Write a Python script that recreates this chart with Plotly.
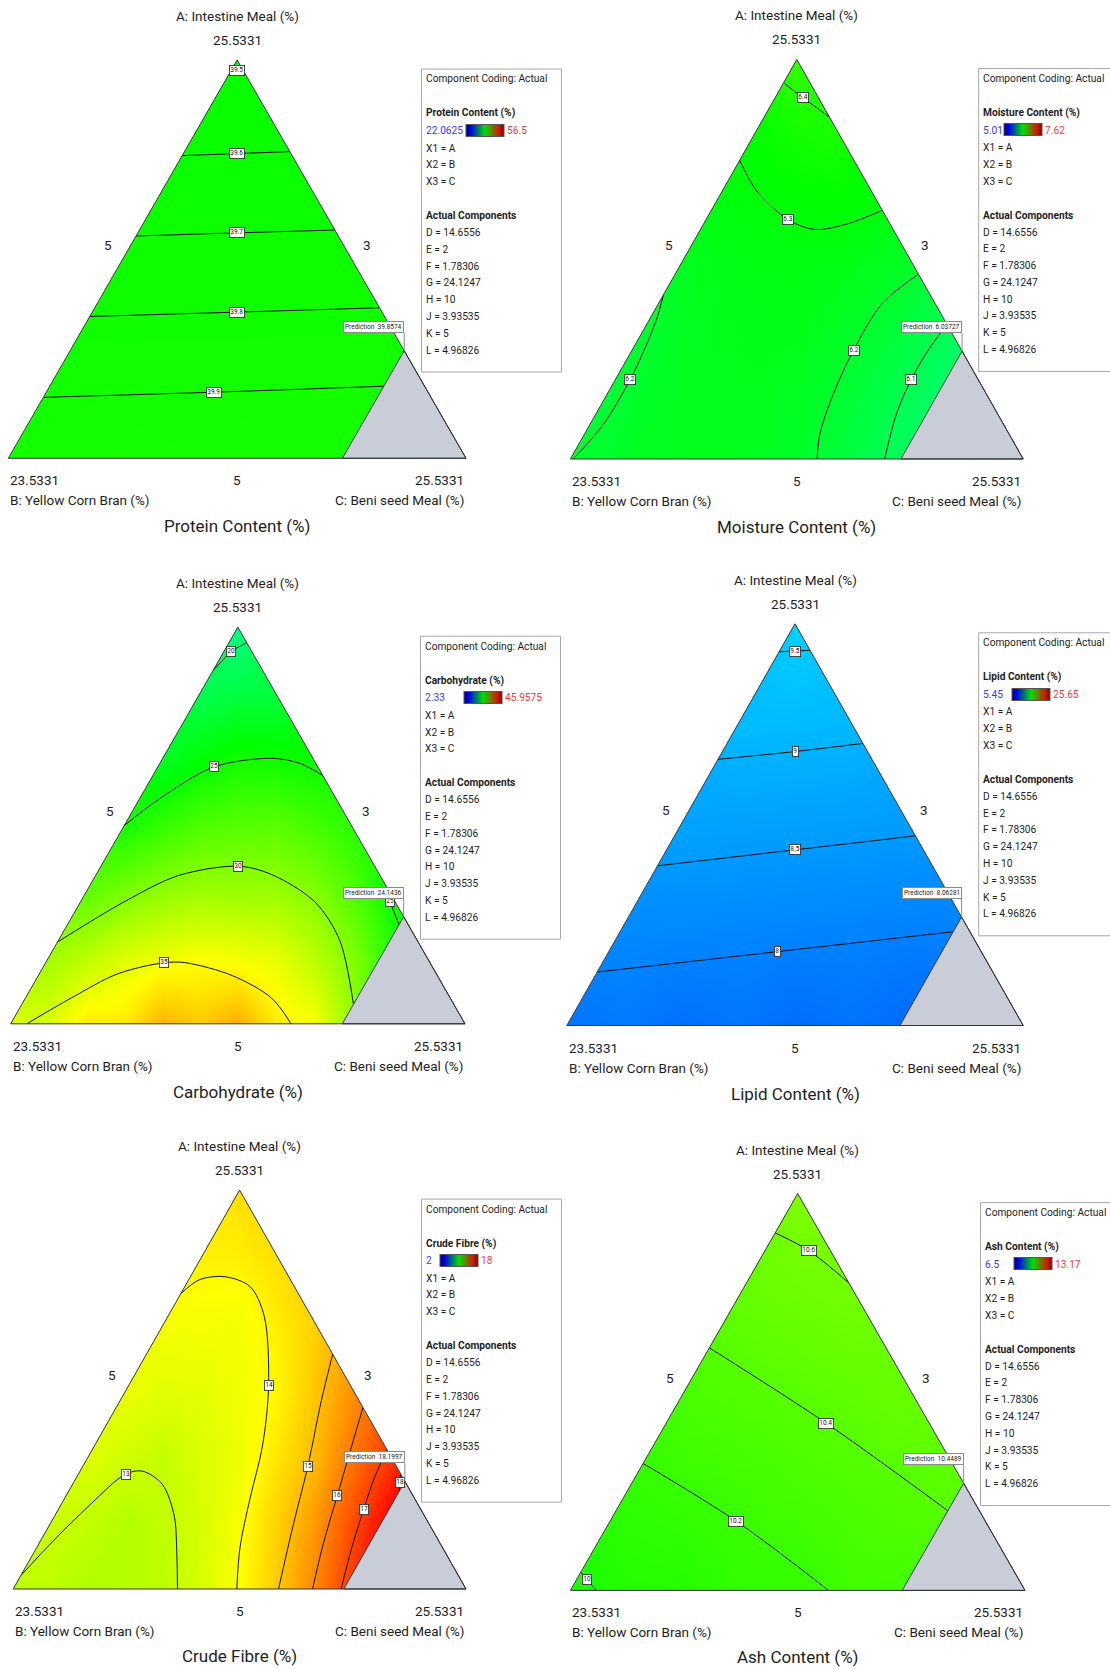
import plotly.graph_objects as go

FIG_W, FIG_H = 1110, 1669
FONT = "Roboto"
INK = "#1e1e1e"

# ---------------------------------------------------------------- data
COMPONENTS = ["A: Intestine Meal (%)", "B: Yellow Corn Bran (%)", "C: Beni seed Meal (%)"]
VERTEX_VALUES = [25.5331, 23.5331, 25.5331]      # A at apex, B bottom-left, C bottom-right
EDGE_TICK_TEXT = ["5", "3", "5"]                 # left edge, right edge, bottom edge

RESPONSES = ["Protein Content (%)", "Moisture Content (%)", "Carbohydrate (%)",
             "Lipid Content (%)", "Crude Fibre (%)", "Ash Content (%)"]
SCALE_LOW = [22.0625, 5.01, 2.33, 5.45, 2, 6.5]
SCALE_HIGH = [56.5, 7.62, 45.9575, 25.65, 18, 13.17]
PREDICTION = [39.8574, 6.03727, 24.1436, 8.06281, 18.1997, 10.4489]

FIXED_NAMES = ["D", "E", "F", "G", "H", "J", "K", "L"]
FIXED_VALUES = [14.6556, 2, 1.78306, 24.1247, 10, 3.93535, 5, 4.96826]

C_UPPER = 0.73                    # pseudo fraction of C above which blends are infeasible
PREDICTION_BLEND = (0.27, 0.73)   # (A, C) pseudo fractions of the flagged blend

# Response values on a simplex lattice: row i -> A = i/n, entry j -> C = j/n
PROTEIN_GRID = [
    [39.98, 39.985, 39.99, 39.995, 40.0],
    [39.86, 39.865, 39.87, 39.875],
    [39.73, 39.735, 39.74],
    [39.605, 39.61],
    [39.49],
]
MOISTURE_GRID = [
    [6.19, 6.24, 6.25, 6.21, 6.12, 5.98, 5.85],
    [6.18, 6.24, 6.25, 6.20, 6.10, 5.98],
    [6.19, 6.25, 6.26, 6.20, 6.10],
    [6.24, 6.27, 6.27, 6.22],
    [6.28, 6.31, 6.31],
    [6.33, 6.39],
    [6.45],
]
CARB_GRID = [
    [33.5, 36.0, 38.3, 38.6, 34.8, 27.0, 20.0],
    [31.0, 33.6, 34.9, 34.1, 29.7, 23.0],
    [28.0, 30.3, 30.7, 29.8, 24.8],
    [25.0, 27.5, 28.0, 26.0],
    [22.5, 25.0, 24.5],
    [20.7, 21.5],
    [18.5],
]
LIPID_GRID = [
    [7.75, 7.68, 7.61, 7.55, 7.48],
    [8.22, 8.16, 8.09, 8.02],
    [8.70, 8.63, 8.56],
    [9.17, 9.10],
    [9.64],
]
FIBRE_GRID = [
    [12.95, 12.75, 12.95, 13.95, 15.9, 18.8, 20.5],
    [13.2, 12.8, 13.35, 14.7, 16.8, 19.5],
    [13.5, 13.1, 13.7, 15.05, 17.1],
    [13.7, 13.6, 14.1, 15.7],
    [13.85, 13.8, 14.7],
    [14.2, 14.5],
    [14.5],
]
ASH_GRID = [
    [9.97, 10.07, 10.165, 10.26, 10.36],
    [10.145, 10.24, 10.34, 10.44],
    [10.32, 10.415, 10.515],
    [10.495, 10.59],
    [10.67],
]

# Contour lines: (level, A fractions, C fractions, index of the labelled point)
PROTEIN_LINES = [
    (39.5, [0.973, 0.973, 0.973], [0.0, 0.0135, 0.027], 1),
    (39.6, [0.760, 0.765, 0.770], [0.0, 0.1175, 0.230], 1),
    (39.7, [0.558, 0.566, 0.573], [0.0, 0.217, 0.427], 1),
    (39.8, [0.356, 0.367, 0.378], [0.0, 0.3165, 0.622], 1),
    (39.9, [0.153, 0.166, 0.181], [0.0, 0.367, 0.73], 1),
]
MOISTURE_LINES = [
    (6.4, [0.9416, 0.9054, 0.8553], [0.0, 0.0599, 0.1449], 1),
    (6.3, [0.7475, 0.6697, 0.599, 0.5748, 0.5878, 0.6223],
          [0.0, 0.0775, 0.1816, 0.2513, 0.3158, 0.3777], 2),
    (6.2, [0.4109, 0.3548, 0.2858, 0.1995, 0.0873, 0.0],
          [0.0, 0.0144, 0.025, 0.0326, 0.0296, 0.0062], 3),
    (6.2, [0.4627, 0.3886, 0.2721, 0.1556, 0.0605, 0.0],
          [0.5373, 0.4942, 0.4893, 0.5003, 0.5203, 0.545], 2),
    (6.1, [0.3376, 0.2599, 0.1996, 0.1133, 0.0],
          [0.6624, 0.6532, 0.6534, 0.6635, 0.694], 2),
]
CARB_LINES = [
    (20, [0.8912, 0.913, 0.939, 0.9608], [0.0, 0.0073, 0.0163, 0.0392], 2),
    (25, [0.5, 0.5695, 0.6478, 0.6695, 0.6565, 0.626],
         [0.0, 0.0454, 0.1242, 0.2391, 0.3085, 0.374], 2),
    (30, [0.2061, 0.3087, 0.3739, 0.3974, 0.3765, 0.3087, 0.213, 0.0478],
         [0.0, 0.0973, 0.1826, 0.3021, 0.3857, 0.5139, 0.6168, 0.7308], 3),
    (35, [0.0, 0.0652, 0.1261, 0.1539, 0.1539, 0.1217, 0.0652, 0.0],
         [0.0354, 0.101, 0.1728, 0.2611, 0.3082, 0.4265, 0.5413, 0.6171], 3),
    (25, [0.3478, 0.3087, 0.25], [0.6522, 0.6806, 0.73], 1),
]
LIPID_LINES = [
    (9.5, [0.9305, 0.932, 0.934], [0.0, 0.033, 0.066], 1),
    (9, [0.6627, 0.682, 0.7022], [0.0, 0.159, 0.2978], 1),
    (8.5, [0.3975, 0.4373, 0.4721], [0.0, 0.2815, 0.5279], 1),
    (8, [0.1331, 0.184, 0.2335], [0.0, 0.3705, 0.73], 1),
]
FIBRE_LINES = [
    (14, [0.7407, 0.7759, 0.7829, 0.7583, 0.6836, 0.5096, 0.3585, 0.2267, 0.1037, 0.0],
         [0.0, 0.0245, 0.0762, 0.1438, 0.2127, 0.3092, 0.3713, 0.4096, 0.449, 0.4938], 5),
    (13, [0.0334, 0.1213, 0.2091, 0.2882, 0.2952, 0.2618, 0.1828, 0.0861, 0.0],
         [0.0, 0.0285, 0.0634, 0.1044, 0.1387, 0.1988, 0.2643, 0.3183, 0.3628], 3),
    (15, [0.5887, 0.4727, 0.3075, 0.1564, 0.0], [0.4113, 0.4443, 0.4969, 0.5394, 0.586], 2),
    (16, [0.4551, 0.3585, 0.2355, 0.1125, 0.0], [0.5449, 0.5684, 0.5984, 0.6284, 0.661], 2),
    (17, [0.3497, 0.2706, 0.1986, 0.1037, 0.0], [0.6503, 0.6597, 0.6745, 0.6959, 0.7241], 2),
    (18, [0.2882, 0.2663, 0.2443], [0.7118, 0.721, 0.73], 1),
]
ASH_LINES = [
    (10.6, [0.9011, 0.856, 0.7748], [0.0, 0.0967, 0.2252], 1),
    (10.4, [0.6113, 0.4214, 0.2006], [0.0, 0.352, 0.73], 1),
    (10.2, [0.3199, 0.1741, 0.0], [0.0, 0.2782, 0.5679], 1),
    (10, [0.046, 0.0279, 0.0], [0.0, 0.0226, 0.0573], 1),
]

GRIDS = [PROTEIN_GRID, MOISTURE_GRID, CARB_GRID, LIPID_GRID, FIBRE_GRID, ASH_GRID]
LINES = [PROTEIN_LINES, MOISTURE_LINES, CARB_LINES, LIPID_LINES, FIBRE_LINES, ASH_LINES]

# ---------------------------------------------------------------- layout (pixels)
PANELS = [
    dict(left=8.3, right=466.0, base=458.3, apex=60.0, bar=44.0, title=68),
    dict(left=570.4, right=1023.2, base=459.0, apex=59.5, bar=25.0, title=68),
    dict(left=10.7, right=465.0, base=1023.8, apex=627.2, bar=43.5, title=68),
    dict(left=566.8, right=1023.2, base=1025.5, apex=623.8, bar=33.0, title=68),
    dict(left=13.2, right=466.0, base=1589.0, apex=1190.1, bar=18.0, title=67),
    dict(left=570.4, right=1025.0, base=1590.4, apex=1193.6, bar=33.0, title=67),
]
LEGEND_ROWS = [10, 44.5, 61.7, 79, 95.8, 112.6, 146.7, 163.5, 180.3, 197.1,
               213.9, 230.7, 247.5, 264.3, 281.1]
PAD = 0.015

# surface colouring and the small gradient key shown in each legend box
RAINBOW = [[0.0, "rgb(0,0,255)"], [0.25, "rgb(0,255,255)"], [0.5, "rgb(0,255,0)"],
           [0.75, "rgb(255,255,0)"], [1.0, "rgb(255,0,0)"]]
KEY_SCALE = [[0.0, "rgb(0,0,120)"], [0.12, "rgb(0,0,235)"], [0.5, "rgb(0,225,0)"],
             [0.88, "rgb(215,20,0)"], [1.0, "rgb(120,0,0)"]]


def to_xy(a, c):
    """Pseudo-component fractions -> triangle plane (B at origin, C at x=1, A at top)."""
    return c + a / 2.0, a


def lattice(grid):
    n = len(grid) - 1
    xs, ys, zs = [], [], []
    for i, row in enumerate(grid):
        for j, v in enumerate(row):
            x, y = to_xy(i / n, j / n)
            xs.append(round(x, 6))
            ys.append(round(y, 6))
            zs.append(v)
    return xs, ys, zs


def pxx(x):
    return x / FIG_W


def pxy(y):
    return 1 - y / FIG_H


def poly(points):
    return "M " + " L ".join(f"{x:.5f},{y:.5f}" for x, y in points) + " Z"


fig = go.Figure()
masks, shapes, annotations, axes = [], [], [], {}

for k, P in enumerate(PANELS):
    suffix = "" if k == 0 else str(k + 1)
    xref, yref = "x" + suffix, "y" + suffix
    w = P["right"] - P["left"]
    h = P["base"] - P["apex"]
    axes["xaxis" + suffix] = dict(domain=[pxx(P["left"] - PAD * w), pxx(P["right"] + PAD * w)],
                                  range=[-PAD, 1 + PAD], visible=False, fixedrange=True,
                                  anchor=yref)
    axes["yaxis" + suffix] = dict(domain=[pxy(P["base"] + PAD * h), pxy(P["apex"] - PAD * h)],
                                  range=[-PAD, 1 + PAD], visible=False, fixedrange=True,
                                  anchor=xref)

    box_left = P["right"] - 44.5
    box_top = P["apex"] + 9
    bar_x = box_left + P["bar"]
    bar_y = box_top + LEGEND_ROWS[2]

    # response surface
    xs, ys, zs = lattice(GRIDS[k])
    fig.add_trace(go.Heatmap(
        x=xs, y=ys, z=zs, xaxis=xref, yaxis=yref, zsmooth="best", connectgaps=True,
        colorscale=RAINBOW, zmin=SCALE_LOW[k], zmax=SCALE_HIGH[k], hoverinfo="skip",
        showscale=False))

    # gradient key in the legend box
    fig.add_trace(go.Scatter(
        x=[None], y=[None], xaxis=xref, yaxis=yref, mode="markers", hoverinfo="skip",
        showlegend=False,
        marker=dict(color=[SCALE_LOW[k]], cmin=SCALE_LOW[k], cmax=SCALE_HIGH[k],
                    colorscale=KEY_SCALE, showscale=True,
                    colorbar=dict(orientation="h", x=pxx(bar_x), xanchor="left", y=pxy(bar_y),
                                  yanchor="middle", len=38, lenmode="pixels", thickness=12,
                                  thicknessmode="pixels", xpad=0, ypad=0, outlinecolor="#555",
                                  outlinewidth=1, showticklabels=False, ticks=""))))

    # contour lines with boxed labels
    for level, A, C, tag in LINES[k]:
        pts = [to_xy(a, c) for a, c in zip(A, C)]
        fig.add_trace(go.Scatter(
            x=[p[0] for p in pts], y=[p[1] for p in pts], xaxis=xref, yaxis=yref,
            mode="lines", line=dict(color="#111111", width=1, shape="spline", smoothing=0.9),
            hoverinfo="skip", showlegend=False))
        annotations.append(dict(
            x=pts[tag][0], y=pts[tag][1], xref=xref, yref=yref, text=f"{level:g}",
            showarrow=False, font=dict(family=FONT, size=6.5, color="#111111"),
            bgcolor="white", bordercolor="#222222", borderwidth=0.8, borderpad=0.5))

    # white cover outside the triangle, in page coordinates so it overlaps the plot edge
    L0, R0 = P["left"] - PAD * w - 4, P["right"] + PAD * w + 4
    T0, B0 = P["apex"] - PAD * h - 4, P["base"] + PAD * h + 4
    mid = (P["left"] + P["right"]) / 2
    for pts in ([(L0, P["base"]), (R0, P["base"]), (R0, B0), (L0, B0)],
                [(L0, P["base"] + 0.5), (P["left"], P["base"] + 0.5), (mid, P["apex"]),
                 (mid, T0), (L0, T0)],
                [(P["right"], P["base"] + 0.5), (R0, P["base"] + 0.5), (R0, T0), (mid, T0),
                 (mid, P["apex"])]):
        masks.append(dict(type="path", xref="paper", yref="paper",
                          path=poly([(pxx(x), pxy(y)) for x, y in pts]),
                          fillcolor="white", line=dict(width=0)))

    # infeasible corner
    corner = [to_xy(0, C_UPPER), to_xy(1 - C_UPPER, C_UPPER), to_xy(0, 1)]
    shapes.append(dict(type="path", path=poly(corner), xref=xref, yref=yref,
                       fillcolor="#c9cdd7", line=dict(color="#3a3a3a", width=1)))
    # triangle frame
    shapes.append(dict(type="path", path=poly([(0, 0), (0.5, 1), (1, 0)]), xref=xref,
                       yref=yref, fillcolor="rgba(0,0,0,0)", line=dict(color="#333333", width=1)))

    # prediction flag
    fx, fy = to_xy(*PREDICTION_BLEND)
    annotations.append(dict(
        x=fx, y=fy, xref=xref, yref=yref, text=f"Prediction\u00a0\u00a0{PREDICTION[k]:g}",
        showarrow=True, arrowhead=0, arrowwidth=1, arrowcolor="#8a8a8a", ax=0, ay=-18,
        xanchor="right", yanchor="bottom", font=dict(family=FONT, size=6.5, color="#222222"),
        bgcolor="white", bordercolor="#8a8a8a", borderwidth=1, borderpad=1))

    # axis texts
    def ptext(x, y, text, size=13.5, xanchor="center", yshift=0):
        annotations.append(dict(x=x, y=y, xref=xref, yref=yref, text=text, showarrow=False,
                                xanchor=xanchor, yanchor="middle", yshift=yshift,
                                font=dict(family=FONT, size=size, color=INK)))

    ptext(0.5, 1, COMPONENTS[0], yshift=44)
    ptext(0.5, 1, f"{VERTEX_VALUES[0]:g}", yshift=20)
    ptext(0.218, 0.536, EDGE_TICK_TEXT[0])
    ptext(0.783, 0.536, EDGE_TICK_TEXT[1])
    ptext(0, 0, f"{VERTEX_VALUES[1]:g}", xanchor="left", yshift=-22)
    ptext(0.5, 0, EDGE_TICK_TEXT[2], yshift=-22)
    ptext(1, 0, f"{VERTEX_VALUES[2]:g}", xanchor="right", yshift=-22)
    ptext(0, 0, COMPONENTS[1], xanchor="left", yshift=-42)
    ptext(1, 0, COMPONENTS[2], xanchor="right", yshift=-42)
    ptext(0.5, 0, RESPONSES[k], size=17, yshift=-P["title"])

    # legend box
    shapes.append(dict(type="rect", xref="paper", yref="paper",
                       x0=pxx(box_left), x1=pxx(box_left + 140),
                       y0=pxy(box_top + 303), y1=pxy(box_top),
                       fillcolor="white", line=dict(color="#a8a8a8", width=1)))

    def ltext(row, text, color=INK, x=None):
        annotations.append(dict(x=pxx(box_left + 2 if x is None else x), y=pxy(box_top + row),
                                xref="paper", yref="paper", text=text, showarrow=False,
                                xanchor="left", yanchor="middle",
                                font=dict(family=FONT, size=10.2, color=color)))

    rows = iter(LEGEND_ROWS)
    ltext(next(rows), "Component Coding: Actual")
    ltext(next(rows), f"<b>{RESPONSES[k]}</b>")
    r = next(rows)
    ltext(r, f"{SCALE_LOW[k]:g}", color="#3a3aff")
    ltext(r, f"{SCALE_HIGH[k]:g}", color="#f03c3c", x=bar_x + 39)
    for i, letter in enumerate("ABC"):
        ltext(next(rows), f"X{i + 1} = {letter}")
    ltext(next(rows), "<b>Actual Components</b>")
    for name, val in zip(FIXED_NAMES, FIXED_VALUES):
        ltext(next(rows), f"{name} = {val:g}")

fig.update_layout(
    width=FIG_W, height=FIG_H, margin=dict(l=0, r=0, t=0, b=0),
    paper_bgcolor="white", plot_bgcolor="white", showlegend=False,
    shapes=masks + shapes, annotations=annotations, font=dict(family=FONT), **axes)

fig.write_html("out.html")
